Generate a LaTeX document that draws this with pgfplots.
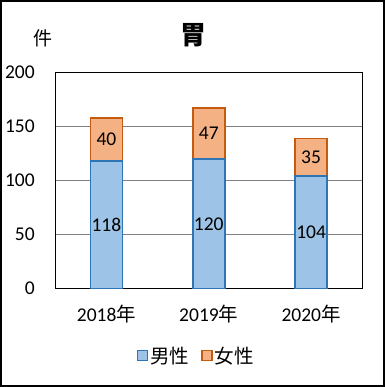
\documentclass[border=0pt]{standalone}
\usepackage{pgfplots}
\pgfplotsset{compat=1.18}
\usepackage{fontspec}
\setmainfont{Carlito}
\newfontfamily\cjk{Noto Sans CJK JP}
\definecolor{mfill}{HTML}{9DC3E6}
\definecolor{mline}{HTML}{2E75B6}
\definecolor{ffill}{HTML}{F4B183}
\definecolor{fline}{HTML}{C55A11}
\definecolor{gridc}{HTML}{808080}
\begin{document}
\begin{tikzpicture}[x=1pt,y=1pt]
\useasboundingbox (0,0) rectangle (385,387);
\draw[line width=2pt] (1,1) rectangle (384,386);
\node[font=\fontsize{26}{30}\selectfont\cjk\bfseries] at (193,352) {胃};
\node[font=\fontsize{19}{22}\selectfont\cjk] at (43,349) {件};
\begin{axis}[
  at={(54,91)}, anchor=south west, scale only axis,
  width=307pt, height=216pt,
  ybar stacked, bar width=32pt,
  xmin=-0.5, xmax=2.5, enlarge x limits=false,
  ymin=0, ymax=200, ytick={0,50,100,150,200},
  xtick={0,1,2},
  xticklabels={2018{\cjk 年},2019{\cjk 年},2020{\cjk 年}},
  font=\fontsize{19.5}{23}\selectfont,
  /pgf/number format/assume math mode=true,
  major tick length=0pt,
  ymajorgrids, grid style={gridc, line width=1.5pt},
  axis line style={black, line width=1.5pt},
  xticklabel style={yshift=-13pt},
  yticklabel style={xshift=-17pt},
  visualization depends on=rawy\as\rawy,
  nodes near coords={\pgfmathprintnumber{\rawy}},
  nodes near coords style={anchor=center, font=\fontsize{19.5}{23}\selectfont, text=black},
  legend style={at={(0.459,-0.31)}, anchor=center, draw=none, legend columns=2, font=\fontsize{19.5}{23}\selectfont,
    /tikz/every even column/.append style={column sep=10pt}},
  legend image code/.code={\draw[#1, line width=1.5pt] (0pt,-5pt) rectangle (10pt,5pt);},
]
\addplot[fill=mfill, draw=mline, line width=1.8pt] coordinates {(0,118) (1,120) (2,104)};
\addlegendentry{\cjk 男性}
\addplot[fill=ffill, draw=fline, line width=1.8pt] coordinates {(0,40) (1,47) (2,35)};
\addlegendentry{\cjk 女性}
\end{axis}
\end{tikzpicture}
\end{document}
